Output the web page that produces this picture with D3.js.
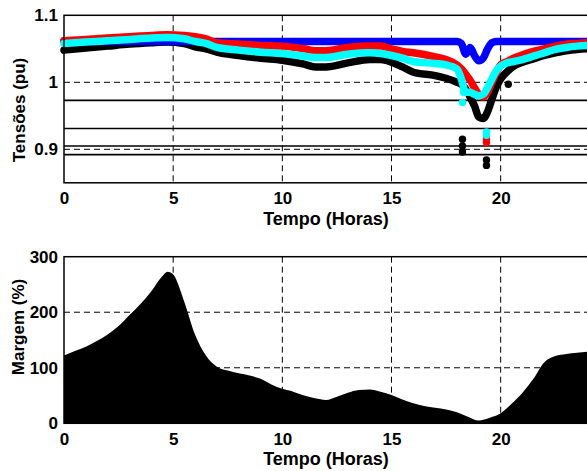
<!DOCTYPE html>
<html>
<head>
<meta charset="utf-8">
<script src="https://cdn.jsdelivr.net/npm/d3@7"></script>
<style>
  body { margin: 0; background: #fff; }
  text { font-family: "Liberation Sans", Arial, sans-serif; font-weight: bold; fill: #000; }
  .grid line { stroke: #000; stroke-width: 1; stroke-dasharray: 6,4; }
</style>
</head>
<body>
<div id="chart"></div>
<script>
// tempo (horas) das curvas de tensão
var horas = [0, 1, 2, 3, 4, 4.7, 5.5, 6, 6.5, 7, 8, 9, 10, 11, 11.5, 12, 13, 14, 14.5, 15, 15.5, 16, 17, 17.5, 18,
  18.2, 18.4, 18.6, 18.8, 19, 19.2, 19.4, 19.6, 19.8, 20, 20.3, 20.6, 21, 21.5, 22, 22.5, 23, 23.5, 24];

var tensaoAzul = [1.062, 1.061, 1.061, 1.061, 1.061, 1.061, 1.061, 1.061, 1.061, 1.061, 1.061, 1.061, 1.061, 1.061, 1.061, 1.061, 1.061, 1.061, 1.061, 1.061, 1.061, 1.061, 1.061, 1.061, 1.061,
  1.058, 1.042, 1.052, 1.040, 1.032, 1.036, 1.050, 1.059, 1.061, 1.061, 1.061, 1.061, 1.061, 1.061, 1.061, 1.061, 1.061, 1.061, 1.061];

var tensaoVermelha = [1.062, 1.064, 1.066, 1.068, 1.070, 1.071, 1.070, 1.068, 1.065, 1.059, 1.057, 1.055, 1.054, 1.050, 1.047, 1.047, 1.052, 1.054, 1.054, 1.050, 1.046, 1.044, 1.038, 1.034, 1.026,
  1.020, 1.012, 1.003, 0.992, 0.982, 0.978, 0.985, 1.000, 1.014, 1.026, 1.031, 1.036, 1.041, 1.046, 1.050, 1.054, 1.057, 1.058, 1.059];

var tensaoCiano = [1.058, 1.060, 1.062, 1.064, 1.066, 1.067, 1.065, 1.061, 1.058, 1.052, 1.048, 1.045, 1.043, 1.039, 1.037, 1.037, 1.042, 1.044, 1.043, 1.040, 1.036, 1.031, 1.028, 1.026, 1.020,
  1.005, 0.985, 0.985, 0.982, 0.980, 0.982, 0.992, 1.005, 1.017, 1.024, 1.029, 1.031, 1.034, 1.039, 1.044, 1.049, 1.052, 1.054, 1.055];

var tensaoPreta = [1.048, 1.051, 1.054, 1.057, 1.059, 1.060, 1.058, 1.053, 1.050, 1.045, 1.040, 1.036, 1.033, 1.027, 1.023, 1.023, 1.029, 1.034, 1.034, 1.030, 1.023, 1.015, 1.010, 1.006, 1.000,
  0.997, 0.990, 0.978, 0.965, 0.948, 0.946, 0.956, 0.975, 0.993, 1.005, 1.016, 1.024, 1.030, 1.035, 1.040, 1.044, 1.047, 1.049, 1.050];

// pontos isolados [hora, tensão]
var isoladosCiano = [[18.25, 0.970], [18.3, 0.985], [19.35, 0.926], [19.35, 0.921]];
var isoladosVermelho = [[19.35, 0.915], [19.35, 0.910]];
var isoladosPreto = [[18.25, 0.915], [18.25, 0.905], [18.25, 0.896], [19.35, 0.884], [19.35, 0.876], [20.35, 0.997]];

// limites horizontais (pu)
var limites = [0.973, 0.931, 0.905, 0.892];

// margem (%)
var horasMargem = [0, 0.5, 1, 1.5, 2, 2.5, 3, 3.5, 4, 4.5, 4.75, 5, 5.5, 6, 6.5, 7, 7.5, 8, 8.5, 9, 9.5, 10, 10.5, 11, 11.5, 12,
  12.5, 13, 13.5, 14, 14.5, 15, 15.5, 16, 16.5, 17, 17.5, 18, 18.5, 19, 19.5, 20, 20.5, 21, 21.5, 22, 22.5, 23, 23.5, 24];
var margem = [122, 130, 138, 148, 160, 175, 195, 215, 238, 265, 273, 268, 220, 160, 122, 102, 95, 90, 86, 80, 70, 62, 57, 50, 45, 42,
  48, 55, 60, 61, 57, 51, 43, 36, 31, 28, 25, 20, 12, 5, 10, 18, 35, 55, 80, 110, 121, 125, 127, 129];

var xTicks = [0, 5, 10, 15, 20];

var svgWidth = 587, svgHeight = 471;
var left = 64, right = 588;

var svg = d3.select("#chart").append("svg")
  .attr("width", svgWidth)
  .attr("height", svgHeight);

// ---------- gráfico de tensões ----------
var x = d3.scaleLinear().domain([0, 24]).range([left, right]);
var y1 = d3.scaleLinear().domain([0.85, 1.1]).range([182.8, 15.3]);

var gTensao = svg.append("g");

gTensao.append("g").attr("class", "grid")
  .selectAll("line").data(xTicks.slice(1)).enter().append("line")
  .attr("x1", function(d) { return x(d); }).attr("x2", function(d) { return x(d); })
  .attr("y1", y1(1.1)).attr("y2", y1(0.85));
gTensao.append("g").attr("class", "grid")
  .selectAll("line").data([0.9, 1.0]).enter().append("line")
  .attr("x1", left).attr("x2", right)
  .attr("y1", function(d) { return y1(d); }).attr("y2", function(d) { return y1(d); });

gTensao.selectAll(".limite").data(limites).enter().append("line")
  .attr("class", "limite")
  .attr("x1", left).attr("x2", right)
  .attr("y1", function(d) { return y1(d); }).attr("y2", function(d) { return y1(d); })
  .attr("stroke", "#000").attr("stroke-width", 1.6);

var linha = d3.line()
  .x(function(d) { return x(d[0]); })
  .y(function(d) { return y1(d[1]); })
  .curve(d3.curveMonotoneX);

var series = [
  { cor: "#000", valores: tensaoPreta, isolados: isoladosPreto },
  { cor: "#0000ff", valores: tensaoAzul, isolados: [] },
  { cor: "#ff0000", valores: tensaoVermelha, isolados: isoladosVermelho },
  { cor: "#00ffff", valores: tensaoCiano, isolados: isoladosCiano }
];

series.forEach(function(s) {
  var pts = horas.map(function(h, i) { return [h, s.valores[i]]; });
  gTensao.append("path")
    .attr("d", linha(pts))
    .attr("fill", "none")
    .attr("stroke", s.cor)
    .attr("stroke-width", 7.5)
    .attr("stroke-linecap", "round")
    .attr("stroke-linejoin", "round");
  gTensao.selectAll(null).data(s.isolados).enter().append("circle")
    .attr("cx", function(d) { return x(d[0]); })
    .attr("cy", function(d) { return y1(d[1]); })
    .attr("r", 3.7)
    .attr("fill", s.cor);
});

gTensao.append("rect")
  .attr("x", left).attr("y", y1(1.1))
  .attr("width", right - left).attr("height", y1(0.85) - y1(1.1))
  .attr("fill", "none").attr("stroke", "#000").attr("stroke-width", 1.5);

var xAxis1 = d3.axisBottom(x).tickValues(xTicks).tickSize(0).tickPadding(9).tickFormat(d3.format("d"));
gTensao.append("g")
  .attr("transform", "translate(0," + y1(0.85) + ")")
  .call(xAxis1)
  .call(function(g) { g.select(".domain").remove(); })
  .selectAll("text").style("font-size", "17px");

var yAxis1 = d3.axisLeft(y1).tickValues([0.9, 1.0, 1.1]).tickSize(0).tickPadding(6)
  .tickFormat(function(d) { return d === 1 ? "1" : d3.format(".1f")(d); });
gTensao.append("g")
  .attr("transform", "translate(" + left + ",0)")
  .call(yAxis1)
  .call(function(g) { g.select(".domain").remove(); })
  .selectAll("text").style("font-size", "17px");

gTensao.append("text")
  .attr("x", x(12)).attr("y", 225)
  .attr("text-anchor", "middle")
  .style("font-size", "18px")
  .text("Tempo (Horas)");

gTensao.append("text")
  .attr("transform", "translate(25,110) rotate(-90)")
  .attr("text-anchor", "middle")
  .style("font-size", "17px")
  .text("Tensões (pu)");

// ---------- gráfico de margem ----------
var y2 = d3.scaleLinear().domain([0, 300]).range([423.3, 256.7]);
var gMargem = svg.append("g");

gMargem.append("g").attr("class", "grid")
  .selectAll("line").data(xTicks.slice(1)).enter().append("line")
  .attr("x1", function(d) { return x(d); }).attr("x2", function(d) { return x(d); })
  .attr("y1", y2(300)).attr("y2", y2(0));
gMargem.append("g").attr("class", "grid")
  .selectAll("line").data([100, 200]).enter().append("line")
  .attr("x1", left).attr("x2", right)
  .attr("y1", function(d) { return y2(d); }).attr("y2", function(d) { return y2(d); });

var area = d3.area()
  .x(function(d) { return x(d[0]); })
  .y0(y2(0))
  .y1(function(d) { return y2(d[1]); })
  .curve(d3.curveMonotoneX);

gMargem.append("path")
  .attr("d", area(horasMargem.map(function(h, i) { return [h, margem[i]]; })))
  .attr("fill", "#000");

gMargem.append("rect")
  .attr("x", left).attr("y", y2(300))
  .attr("width", right - left).attr("height", y2(0) - y2(300))
  .attr("fill", "none").attr("stroke", "#000").attr("stroke-width", 1.5);

var xAxis2 = d3.axisBottom(x).tickValues(xTicks).tickSize(0).tickPadding(9.5).tickFormat(d3.format("d"));
gMargem.append("g")
  .attr("transform", "translate(0," + y2(0) + ")")
  .call(xAxis2)
  .call(function(g) { g.select(".domain").remove(); })
  .selectAll("text").style("font-size", "17px");

var yAxis2 = d3.axisLeft(y2).tickValues([0, 100, 200, 300]).tickSize(0).tickPadding(6).tickFormat(d3.format("d"));
gMargem.append("g")
  .attr("transform", "translate(" + left + ",0)")
  .call(yAxis2)
  .call(function(g) { g.select(".domain").remove(); })
  .selectAll("text").style("font-size", "17px");

gMargem.append("text")
  .attr("x", x(12)).attr("y", 465)
  .attr("text-anchor", "middle")
  .style("font-size", "18px")
  .text("Tempo (Horas)");

gMargem.append("text")
  .attr("transform", "translate(24,327) rotate(-90)")
  .attr("text-anchor", "middle")
  .style("font-size", "17px")
  .text("Margem (%)");
</script>
</body>
</html>
